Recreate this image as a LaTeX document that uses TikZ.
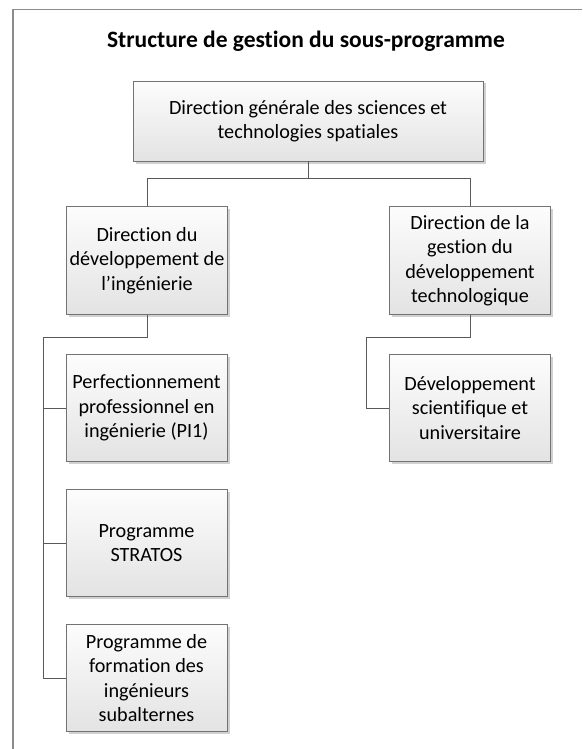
\documentclass[tikz,border=0pt]{standalone}
\usepackage{fontspec}
\setmainfont{Carlito}[Ligatures=NoCommon]
\usetikzlibrary{positioning, shadows}

\begin{document}
\begin{tikzpicture}[x=1pt, y=-1pt,
    unit/.style={draw=black!55, line width=0.9pt, top color=white!99!black, bottom color=white!89!black,
      drop shadow={shadow xshift=2.5pt, shadow yshift=-2.5pt, fill=black!18, opacity=1},
      align=center, inner sep=2pt, font=\fontsize{20.2}{24.5}\selectfont},
    topunit/.style={unit, minimum width=350pt, minimum height=80pt},
    subunit/.style={unit, minimum width=161pt, minimum height=107.5pt},
    link/.style={draw=black!65, line width=0.9pt},
    frame/.style={draw=black!45, line width=1.4pt},
  ]
  \useasboundingbox (0,0) rectangle (582,749);

  % outer frame (cut by the page edge)
  \draw[frame] (13,749) -- (13,9.5) -- (582,9.5);

  % title
  \node[font=\fontsize{23.5}{28}\selectfont\bfseries] (title) at (306,41) {Structure de gestion du sous-programme};

  % top level
  \node[topunit] (dg) at (308,121) {Direction générale des sciences et\\technologies spatiales};

  % second level
  \node[subunit] (dirIng) at (147,260.5) {Direction du\\développement de\\l’ingénierie};
  \node[subunit] (dirTech) at (470,260.5) {Direction de la\\gestion du\\développement\\technologique};

  % units under Direction du développement de l'ingénierie
  \foreach \i/\y/\txt in {0/408/{Perfectionnement\\professionnel en\\ingénierie (PI1)},
                          1/543/{Programme\\STRATOS},
                          2/678/{Programme de\\formation des\\ingénieurs\\subalternes}} {
    \node[subunit] (ing\i) at (146.5,\y) {\txt};
  }

  % unit under Direction de la gestion du développement technologique
  \node[subunit] (devSci) at (470,408) {Développement\\scientifique et\\universitaire};

  % connectors
  \coordinate (spineIng) at (43,337);
  \coordinate (spineTech) at (366,337);
  \draw[link] (dg.south) -- ++(0,17) -| (dirIng.north);
  \draw[link] (dg.south) -- ++(0,17) -| (dirTech.north);
  \draw[link] (dirIng.south) |- (spineIng);
  \foreach \i in {0,1,2} {
    \draw[link] (spineIng) |- (ing\i.west);
  }
  \draw[link] (dirTech.south) |- (spineTech) |- (devSci.west);
\end{tikzpicture}
\end{document}
